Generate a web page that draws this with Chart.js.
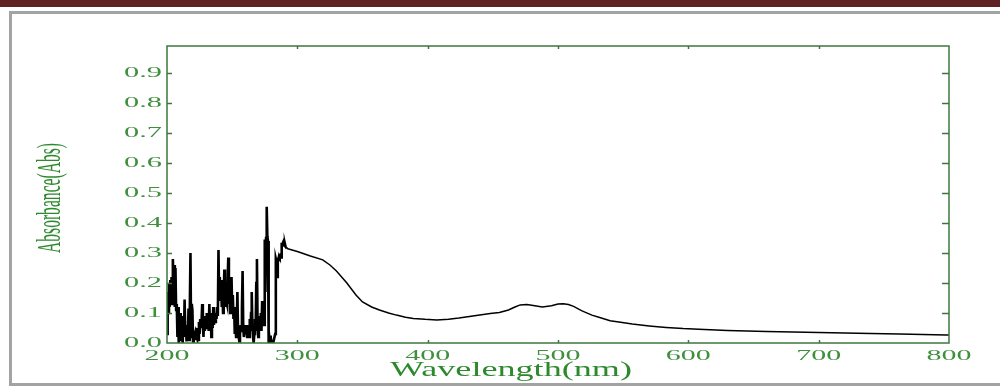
<!DOCTYPE html>
<html><head><meta charset="utf-8">
<script src="https://cdn.jsdelivr.net/npm/chart.js@4.4.1/dist/chart.umd.min.js"></script>
<style>html,body{margin:0;padding:0;background:#fff;overflow:hidden}canvas{display:block}</style>
</head><body>
<canvas id="c" width="1000" height="388"></canvas>
<script>
// ---- data ----
const wavelength = [
200.0,200.5,201.0,201.5,202.0,202.5,203.0,203.5,204.0,204.5,205.0,205.5,206.0,206.5,207.0,207.5,208.0,208.5,209.0,209.5,
210.0,210.5,211.0,211.5,212.0,212.5,213.0,213.5,214.0,214.5,215.0,215.5,216.0,216.5,217.0,217.5,218.0,218.5,219.0,219.5,
220.0,220.5,221.0,221.5,222.0,222.5,223.0,223.5,224.0,224.5,225.0,225.5,226.0,226.5,227.0,227.5,228.0,228.5,229.0,229.5,
230.0,230.5,231.0,231.5,232.0,232.5,233.0,233.5,234.0,234.5,235.0,235.5,236.0,236.5,237.0,237.5,238.0,238.5,239.0,239.5,
240.0,240.5,241.0,241.5,242.0,242.5,243.0,243.5,244.0,244.5,245.0,245.5,246.0,246.5,247.0,247.5,248.0,248.5,249.0,249.5,
250.0,250.5,251.0,251.5,252.0,252.5,253.0,253.5,254.0,254.5,255.0,255.5,256.0,256.5,257.0,257.5,258.0,258.5,259.0,259.5,
260.0,260.5,261.0,261.5,262.0,262.5,263.0,263.5,264.0,264.5,265.0,265.5,266.0,266.5,267.0,267.5,268.0,268.5,269.0,269.5,
270.0,270.5,271.0,271.5,272.0,272.5,273.0,273.5,274.0,274.5,275.0,275.5,276.0,276.5,277.0,277.5,278.0,278.5,279.0,279.5,
280.0,280.5,281.0,281.5,282.0,282.5,283.0,283.5,284.0,284.5,285.0,285.5,286.0,286.5,287.0,287.5,288.0,288.5,289.0,289.5,
290.0,290.5,291.0,292.0,300,310,319.5,325,330,338,345,350,357,363,370,376,383,389,398,407,416,424,432,440,448,455,462,467,
471,476,481,488,495,500,504,508,512,518,526,532,540,548,557,570,583,596,608,630,660,690,710,740,762,780,798,800
];
const absorbance = [
0.03,0.17,0.10,0.20,0.12,0.21,0.15,0.22,0.13,0.28,0.18,0.26,0.12,0.25,0.11,0.13,0.02,0.12,0.00,0.10,
0.03,0.10,0.01,0.09,0.00,0.06,0.02,0.145,0.04,0.06,0.005,0.05,0.02,0.115,0.01,0.115,0.30,0.02,0.13,0.11,
0.005,0.04,0.02,0.03,0.01,0.03,0.02,0.05,0.01,0.07,0.03,0.08,0.05,0.07,0.13,0.06,0.02,0.09,0.04,0.08,
0.05,0.10,0.06,0.08,0.04,0.13,0.05,0.10,0.02,0.09,0.05,0.12,0.06,0.09,0.07,0.10,0.08,0.12,0.09,0.31,
0.15,0.22,0.14,0.21,0.12,0.18,0.10,0.16,0.245,0.12,0.20,0.14,0.13,0.20,0.285,0.13,0.17,0.10,0.15,0.22,
0.11,0.16,0.08,0.12,0.03,0.06,0.02,0.05,0.17,0.04,0.02,0.005,0.03,0.06,0.04,0.12,0.24,0.05,0.02,0.04,
0.06,0.03,0.05,0.02,0.06,0.04,0.02,0.08,0.04,0.10,0.17,0.06,0.02,0.00,0.03,0.08,0.04,0.20,0.28,0.06,
0.02,0.09,0.05,0.07,0.10,0.04,0.14,0.09,0.12,0.06,0.345,0.17,0.35,0.454,0.355,0.34,0.00,0.02,0.00,0.025,
0.00,0.00,0.005,0.00,0.00,0.02,0.03,0.28,0.27,0.22,0.28,0.28,0.29,0.285,0.29,0.285,0.33,0.33,0.335,0.34,
0.325,0.33,0.32,0.315,0.305,0.29,0.277,0.26,0.24,0.20,0.16,0.137,0.12,0.11,0.10,0.093,0.086,0.082,0.079,0.077,0.079,0.083,0.088,0.093,0.098,0.102,0.110,0.120,
0.127,0.128,0.125,0.120,0.124,0.130,0.131,0.128,0.122,0.108,0.093,0.085,0.074,0.069,0.063,0.057,0.052,0.048,0.046,0.042,0.038,0.036,0.034,0.032,0.030,0.028,0.027,0.027
];
const xTickValues = [200, 300, 400, 500, 600, 700, 800];
const xTickLabels = ['200', '300', '400', '500', '600', '700', '800'];
const yTickValues = [0.0, 0.1, 0.2, 0.3, 0.4, 0.5, 0.6, 0.7, 0.8, 0.9];
const yTickLabels = ['0.0', '0.1', '0.2', '0.3', '0.4', '0.5', '0.6', '0.7', '0.8', '0.9'];
const xTitle = 'Wavelength(nm)';
const yTitle = 'Absorbance(Abs)';

// ---- styles ----
const TICK_GREEN = '#3f8f3f';
const TITLE_GREEN = '#2c8a2c';
const AXIS_GREEN = '#3d773d';

function stretchText(ctx, text, x, y, targetW, align, rot) {
  ctx.save();
  ctx.translate(x, y);
  if (rot) ctx.rotate(rot);
  const w = ctx.measureText(text).width;
  ctx.scale(targetW / w, 1);
  ctx.textAlign = align;
  ctx.textBaseline = 'middle';
  ctx.fillText(text, 0, 0);
  ctx.restore();
}

const decor = {
  id: 'decor',
  beforeDraw(chart) {
    const ctx = chart.ctx;
    ctx.save();
    ctx.fillStyle = '#ffffff';
    ctx.fillRect(0, 0, chart.width, chart.height);
    ctx.fillStyle = '#612222';
    ctx.fillRect(0, 0, chart.width, 7);
    ctx.strokeStyle = '#a3a3a3';
    ctx.lineWidth = 3;
    ctx.beginPath();
    ctx.moveTo(1010, 12.5); ctx.lineTo(10.5, 12.5); ctx.lineTo(10.5, 384.5); ctx.lineTo(1010, 384.5);
    ctx.stroke();
    ctx.restore();
  },
  afterDraw(chart) {
    const { ctx, chartArea: a, scales: { x, y } } = chart;
    ctx.save();
    ctx.strokeStyle = AXIS_GREEN;
    ctx.lineWidth = 1.5;
    ctx.strokeRect(a.left, a.top, a.right - a.left, a.bottom - a.top);
    ctx.beginPath();
    yTickValues.forEach(v => {
      if (v === 0) return;
      const py = Math.round(y.getPixelForValue(v)) + 0.5;
      ctx.moveTo(a.left, py); ctx.lineTo(a.left + 5, py);
      ctx.moveTo(a.right, py); ctx.lineTo(a.right - 7, py);
    });
    xTickValues.forEach(v => {
      if (v === 200 || v === 800) return;
      const px = Math.round(x.getPixelForValue(v)) + 0.5;
      ctx.moveTo(px, a.top); ctx.lineTo(px, a.top + 3);
      ctx.moveTo(px, a.bottom); ctx.lineTo(px, a.bottom - 3);
    });
    ctx.stroke();

    ctx.fillStyle = TICK_GREEN;
    ctx.font = '15px "Liberation Serif"';
    yTickValues.forEach((v, i) => {
      stretchText(ctx, yTickLabels[i], a.left - 5, y.getPixelForValue(v), 38, 'right');
    });
    xTickValues.forEach((v, i) => {
      stretchText(ctx, xTickLabels[i], x.getPixelForValue(v), a.bottom + 13, 45, 'center');
    });

    ctx.fillStyle = TITLE_GREEN;
    ctx.font = '21px "Liberation Serif"';
    stretchText(ctx, xTitle, 511, 370, 242, 'center');
    ctx.font = '33px "Liberation Serif"';
    stretchText(ctx, yTitle, 51, 198, 110, 'center', -Math.PI / 2);
    ctx.restore();
  }
};

new Chart(document.getElementById('c'), {
  type: 'line',
  data: {
    datasets: [{
      data: wavelength.map((w, i) => ({ x: w, y: absorbance[i] })),
      borderColor: '#000000',
      borderWidth: 1.5,
      segment: { borderWidth: c => (c.p0.parsed.x < 292 ? 2.6 : 1.5) },
      pointRadius: 0,
      tension: 0,
      fill: false
    }]
  },
  options: {
    responsive: false,
    animation: false,
    devicePixelRatio: 1,
    layout: { padding: { left: 167, right: 51, top: 46, bottom: 45 } },
    plugins: { legend: { display: false }, tooltip: { enabled: false } },
    scales: {
      x: { type: 'linear', min: 200, max: 800, display: false },
      y: { type: 'linear', min: 0, max: 0.99, display: false }
    }
  },
  plugins: [decor]
});
</script>
</body></html>
